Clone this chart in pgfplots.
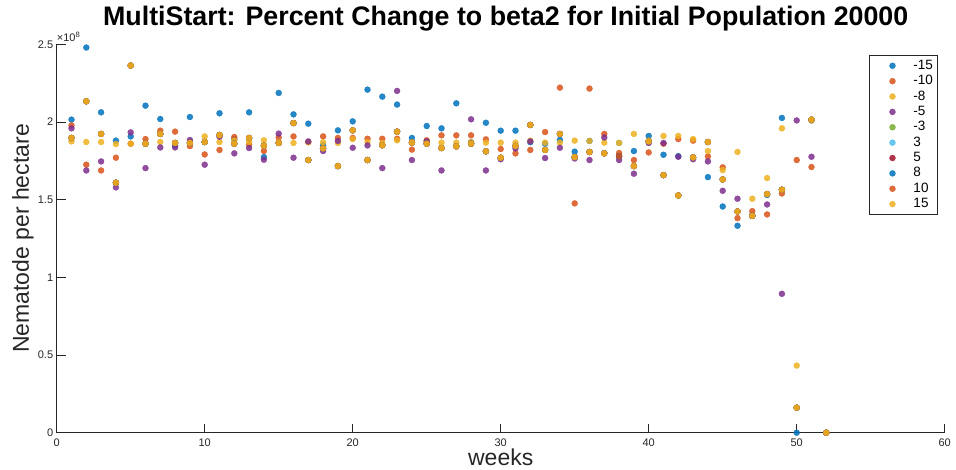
\documentclass[border=0pt]{standalone}
\usepackage{pgfplots}
\pgfplotsset{compat=1.18}
\usepackage{pgfplotstable}
\usepackage{fontspec}
\setmainfont{Liberation Sans}

\definecolor{c1}{RGB}{0,114,189}
\definecolor{c2}{RGB}{217,83,25}
\definecolor{c3}{RGB}{237,177,32}
\definecolor{c4}{RGB}{126,47,142}
\definecolor{c5}{RGB}{119,172,48}
\definecolor{c6}{RGB}{77,190,238}
\definecolor{c7}{RGB}{162,20,47}
\definecolor{axisgray}{RGB}{38,38,38}

% nematodes per hectare (x 1e8), one column per percent change
\pgfplotstableread{
w  m15   m10   m8    m5    m3    p3    p5    p8    p10   p15
1  2.015 1.978 1.875 1.959 1.897 1.897 1.897 1.897 1.897 1.897
2  2.479 1.725 1.871 1.688 2.133 2.133 2.133 2.133 2.133 2.133
3  2.062 1.688 1.871 1.746 1.923 1.923 1.923 1.923 1.923 1.923
4  1.880 1.770 1.858 1.579 1.609 1.609 1.609 1.609 1.609 1.609
5  1.907 1.860 1.860 1.933 2.363 2.363 2.363 2.363 2.363 2.363
6  2.105 1.890 1.860 1.703 1.860 1.860 1.860 1.860 1.860 1.860
7  2.019 1.944 1.871 1.836 1.923 1.923 1.923 1.923 1.923 1.923
8  1.850 1.938 1.865 1.836 1.865 1.865 1.865 1.865 1.865 1.865
9  2.032 1.845 1.870 1.884 1.865 1.865 1.865 1.865 1.865 1.865
10 1.870 1.791 1.907 1.725 1.871 1.871 1.871 1.871 1.871 1.871
11 2.056 1.820 1.871 1.905 1.916 1.916 1.916 1.916 1.916 1.916
12 1.890 1.903 1.880 1.798 1.860 1.860 1.860 1.860 1.860 1.860
13 2.062 1.855 1.871 1.832 1.897 1.897 1.897 1.897 1.897 1.897
14 1.774 1.813 1.882 1.757 1.847 1.847 1.847 1.847 1.847 1.847
15 2.187 1.900 1.870 1.925 1.865 1.865 1.865 1.865 1.865 1.865
16 2.049 1.907 1.865 1.770 1.993 1.993 1.993 1.993 1.993 1.993
17 1.989 1.870 1.870 1.875 1.755 1.755 1.755 1.755 1.755 1.755
18 1.850 1.907 1.869 1.813 1.830 1.830 1.830 1.830 1.830 1.830
19 1.946 1.897 1.865 1.878 1.716 1.716 1.716 1.716 1.716 1.716
20 2.004 1.897 1.890 1.834 1.946 1.946 1.946 1.946 1.946 1.946
21 2.208 1.892 1.870 1.849 1.755 1.755 1.755 1.755 1.755 1.755
22 2.163 1.892 1.865 1.703 1.850 1.850 1.850 1.850 1.850 1.850
23 2.112 1.892 1.882 2.200 1.938 1.938 1.938 1.938 1.938 1.938
24 1.897 1.822 1.870 1.755 1.867 1.867 1.867 1.867 1.867 1.867
25 1.974 1.882 1.870 1.875 1.860 1.860 1.860 1.860 1.860 1.860
26 1.959 1.914 1.867 1.688 1.832 1.832 1.832 1.832 1.832 1.832
27 2.120 1.914 1.867 1.843 1.843 1.843 1.843 1.843 1.843 1.843
28 1.870 1.914 1.870 2.017 1.860 1.860 1.860 1.860 1.860 1.860
29 1.995 1.888 1.867 1.688 1.811 1.811 1.811 1.811 1.811 1.811
30 1.944 1.826 1.867 1.760 1.770 1.770 1.770 1.770 1.770 1.770
31 1.944 1.798 1.867 1.830 1.846 1.846 1.846 1.846 1.846 1.846
32 1.870 1.820 1.880 1.875 1.981 1.981 1.981 1.981 1.981 1.981
33 1.860 1.935 1.867 1.768 1.820 1.820 1.820 1.820 1.820 1.820
34 1.885 2.221 1.867 1.834 1.923 1.923 1.923 1.923 1.923 1.923
35 1.809 1.476 1.880 1.765 1.774 1.774 1.774 1.774 1.774 1.774
36 1.878 2.215 1.878 1.755 1.807 1.807 1.807 1.807 1.807 1.807
37 1.800 1.923 1.867 1.900 1.798 1.798 1.798 1.798 1.798 1.798
38 1.780 1.800 1.865 1.755 1.780 1.865 1.780 1.780 1.780 1.865
39 1.813 1.755 1.923 1.667 1.716 1.716 1.716 1.716 1.716 1.716
40 1.910 1.804 1.880 1.865 1.875 1.875 1.875 1.875 1.875 1.875
41 1.789 1.860 1.910 1.865 1.658 1.658 1.658 1.658 1.658 1.658
42 1.780 1.890 1.910 1.776 1.527 1.527 1.527 1.527 1.527 1.527
43 1.772 1.880 1.890 1.760 1.772 1.772 1.772 1.772 1.772 1.772
44 1.645 1.778 1.813 1.746 1.871 1.871 1.871 1.871 1.871 1.871
45 1.456 1.708 1.690 1.557 1.630 1.630 1.630 1.630 1.630 1.630
46 1.332 1.381 1.807 1.506 1.424 1.424 1.424 1.424 1.424 1.424
47 1.400 1.426 1.506 1.396 1.396 1.396 1.396 1.396 1.396 1.396
48 1.530 1.405 1.639 1.469 1.536 1.536 1.536 1.536 1.536 1.536
49 2.026 1.540 1.959 0.894 1.564 1.564 1.564 1.564 1.564 1.564
50 0.000 1.755 0.432 2.010 0.161 0.161 0.161 0.161 0.161 0.161
51 2.010 1.710 2.010 1.776 2.015 2.015 2.015 2.015 2.015 2.015
52 0.000 0.000 0.000 0.000 0.000 0.000 0.000 0.000 0.000 0.000
}\data

\pgfplotsset{
  every axis plot/.append style={
    only marks, mark=*, mark size=3pt,
    mark options={fill opacity=0.85, draw opacity=0.85, line width=0.3pt},
    legend image code/.code={
      \path[draw=none, fill=none] (0pt,-4pt) rectangle (24pt,4pt);
      \draw[##1] plot coordinates {(20.4pt,0pt)};
    }
  }
}

\begin{document}
\begin{tikzpicture}
\begin{axis}[
  scale only axis,
  width=888pt, height=388.4pt,
  xmin=0, xmax=60, ymin=0, ymax=2.5,
  clip=false,
  axis x line*=bottom, axis y line*=left,
  xtick={0,10,...,60},
  ytick={0,0.5,1,1.5,2,2.5},
  yticklabels={0,0.5,1,1.5,2,2.5},
  tick align=inside,
  major tick length=9pt,
  tick style={color=axisgray, line width=0.8pt},
  axis line style={color=axisgray, line width=0.8pt},
  ticklabel style={font=\fontsize{11}{11}\selectfont, color=axisgray},
  xticklabel style={yshift=-2.5pt},
  /pgf/number format/assume math mode=true,
  xlabel={weeks},
  ylabel={Nematode per hectare},
  label style={font=\fontsize{23}{23}\selectfont, color=axisgray, inner sep=0pt},
  xlabel style={at={(axis description cs:0.5,-0.0832)}, anchor=base},
  ylabel style={at={(axis description cs:-0.0312,0.5)}, anchor=base},
  title={MultiStart: Percent Change to beta2 for Initial Population 20000},
  title style={font=\bfseries\fontsize{26.8}{26.8}\selectfont, inner sep=0pt,
    at={(axis description cs:0.5,1)}, anchor=base, xshift=5pt, yshift=12.6pt},
  legend style={
    at={(rel axis cs:1,1)}, anchor=north east,
    xshift=-7.4pt, yshift=-10.7pt,
    draw=axisgray, line width=0.6pt,
    font=\fontsize{13.5}{13.5}\selectfont,
    inner xsep=3pt, inner ysep=3pt,
    column sep=16.4pt, row sep=0.37pt,
    nodes={inner sep=1pt, text height=10pt, text depth=3pt},
  },
  legend cell align=left,
]
\addplot[color=c1] table[x=w, y=m15] {\data};
\addplot[color=c2] table[x=w, y=m10] {\data};
\addplot[color=c3] table[x=w, y=m8]  {\data};
\addplot[color=c4] table[x=w, y=m5]  {\data};
\addplot[color=c5] table[x=w, y=m3]  {\data};
\addplot[color=c6] table[x=w, y=p3]  {\data};
\addplot[color=c7] table[x=w, y=p5]  {\data};
\addplot[color=c1] table[x=w, y=p8]  {\data};
\addplot[color=c2] table[x=w, y=p10] {\data};
\addplot[color=c3] table[x=w, y=p15] {\data};
\legend{-15,-10,-8,-5,-3,3,5,8,10,15}
\node[anchor=base west, inner sep=0pt, font=\fontsize{11}{11}\selectfont, text=axisgray]
  at ([yshift=2.6pt]rel axis cs:0,1) {×10\textsuperscript{8}};
\end{axis}
\path ([xshift=-56.7pt,yshift=-37.3pt]current axis.south west)
  rectangle ([xshift=11.3pt,yshift=44.3pt]current axis.north east);
\end{tikzpicture}
\end{document}
